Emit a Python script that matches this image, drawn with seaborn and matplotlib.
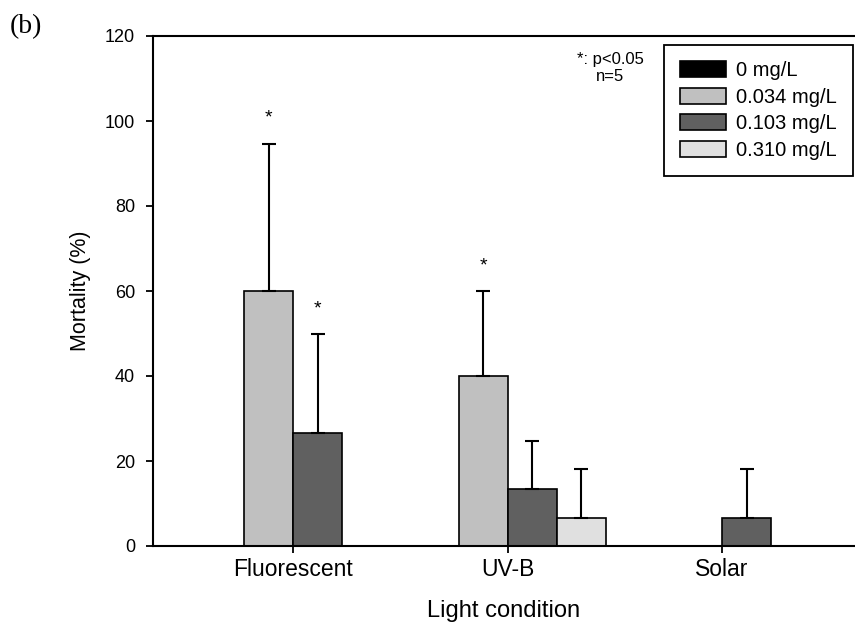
import pandas as pd
import matplotlib
matplotlib.use("Agg")
import matplotlib.pyplot as plt
import seaborn as sns

# values (mean, SD) for each light condition
lights = ["Fluorescent", "UV-B", "Solar"]
concs = ["0 mg/L", "0.034 mg/L", "0.103 mg/L", "0.310 mg/L"]
mean_0 = [0, 0, 0]
mean_034 = [60, 40, 0]
mean_103 = [26.7, 13.3, 6.7]
mean_310 = [0, 6.7, 0]
sd_0 = [0, 0, 0]
sd_034 = [34.6, 20, 0]
sd_103 = [23.1, 11.5, 11.5]
sd_310 = [0, 11.5, 0]
significant = [("Fluorescent", "0.034 mg/L"), ("Fluorescent", "0.103 mg/L"), ("UV-B", "0.034 mg/L")]
bar_colors = ["#000000", "#c0c0c0", "#606060", "#e0e0e0"]

means = [mean_0, mean_034, mean_103, mean_310]
sds = [sd_0, sd_034, sd_103, sd_310]
rows = []
for c, m_list, s_list in zip(concs, means, sds):
    for light, m, s in zip(lights, m_list, s_list):
        rows.append({"light": light, "conc": c, "mortality": m, "sd": s})
df = pd.DataFrame(rows)

sns.set_style("ticks")
plt.rcParams["font.family"] = ["Liberation Sans", "DejaVu Sans"]
plt.rcParams["text.color"] = "black"
plt.rcParams["axes.labelcolor"] = "black"
plt.rcParams["xtick.color"] = "black"
plt.rcParams["ytick.color"] = "black"

fig = plt.figure(figsize=(8.55, 6.26), dpi=100)
ax = fig.add_axes([153 / 855, 80 / 626, 1 - 153 / 855, 510 / 626])

sns.barplot(data=df, x="light", y="mortality", hue="conc", order=lights, hue_order=concs,
            palette=bar_colors, edgecolor="black", linewidth=1.2, width=0.914,
            errorbar=None, ax=ax, saturation=1)

# upper error bars (SD) and significance marks
for c, container in zip(concs, ax.containers):
    for light, patch in zip(lights, container):
        row = df[(df.light == light) & (df.conc == c)].iloc[0]
        x = patch.get_x() + patch.get_width() / 2
        h = patch.get_height()
        if row.sd > 0:
            ax.errorbar(x, h, yerr=[[0], [row.sd]], fmt="none", ecolor="black",
                        elinewidth=1.5, capsize=5, capthick=1.5, zorder=1)
        if (light, c) in significant:
            ax.text(x, h + row.sd + 6, "*", ha="center", va="center", fontsize=14)

ax.set_xlim(-0.653, 2.62)
ax.set_ylim(0, 120)
ax.set_yticks(range(0, 121, 20))
ax.set_xlabel("Light condition", fontsize=17, labelpad=13)
ax.set_ylabel("Mortality (%)", fontsize=15.5, labelpad=10)
ax.tick_params(axis="y", labelsize=13, length=5, width=1.3, pad=8)
ax.tick_params(axis="x", labelsize=16.5, length=5, width=1.3, pad=4)

for side in ["left", "bottom", "top"]:
    ax.spines[side].set_linewidth(1.5)
    ax.spines[side].set_color("black")
ax.spines["right"].set_visible(False)

leg = ax.legend(loc="upper right", bbox_to_anchor=(853 / 855, 1 - 45 / 626),
                bbox_transform=fig.transFigure, borderaxespad=0, fontsize=14.5,
                frameon=True, fancybox=False, edgecolor="black", handlelength=2.3,
                handleheight=0.85, labelspacing=0.38, borderpad=0.8, handletextpad=0.5)
leg.get_frame().set_linewidth(1.3)
leg.get_frame().set_alpha(1)

ax.text(0.651, 0.969, "*: p<0.05\nn=5", transform=ax.transAxes, ha="center", va="top",
        fontsize=12, linespacing=1.2)
fig.text(10 / 855, 1 - 27 / 626, "(b)", ha="left", va="center", fontsize=20,
         family="Liberation Serif")

plt.savefig("out.png", dpi=100)
